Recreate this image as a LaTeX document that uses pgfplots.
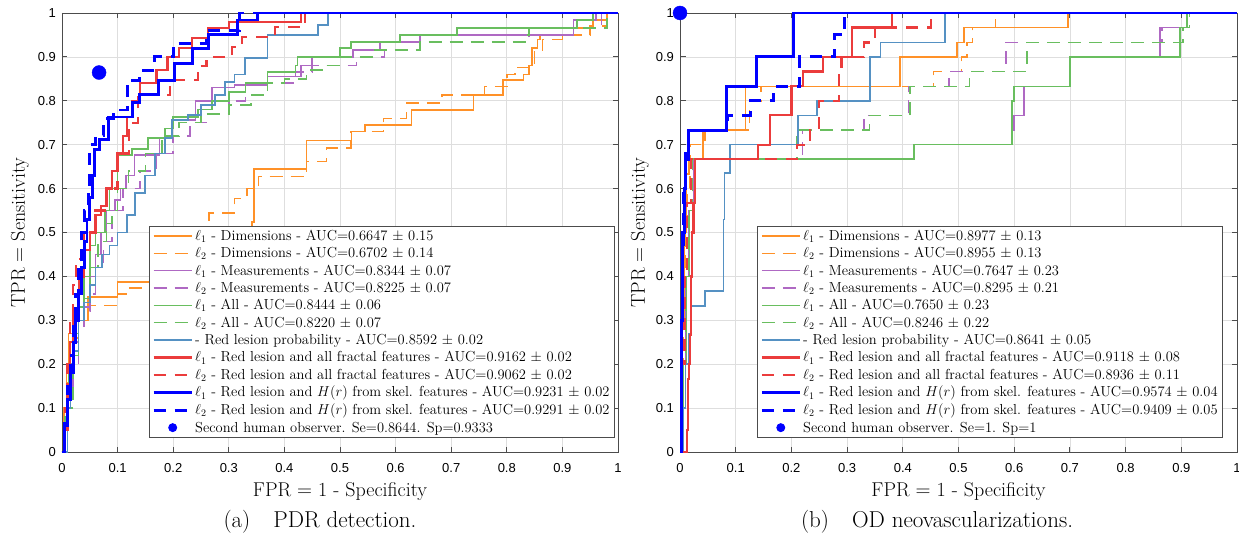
\documentclass[border=0pt]{standalone}
\usepackage{fontspec}
\usepackage{pgfplots}
\pgfplotsset{compat=1.18}
\newfontfamily\tickfont{Liberation Sans}
\definecolor{cOr}{RGB}{255,145,40}
\definecolor{cPu}{RGB}{175,105,195}
\definecolor{cGr}{RGB}{105,190,95}
\definecolor{cSb}{RGB}{85,145,195}
\definecolor{cRd}{RGB}{235,60,60}
\definecolor{cBl}{RGB}{0,0,255}
\pgfplotsset{
 sOr/.style={const plot, color=cOr, line width=1.5pt},
 sPu/.style={const plot, color=cPu, line width=1.5pt},
 sGr/.style={const plot, color=cGr, line width=1.5pt},
 sSb/.style={const plot, color=cSb, line width=1.5pt},
 sRd/.style={const plot, color=cRd, line width=2.3pt},
 sBl/.style={const plot, color=cBl, line width=2.9pt},
 dsh/.style={dash pattern=on 13pt off 8pt},
 dshB/.style={dash pattern=on 12pt off 9pt},
 rocax/.style={
  scale only axis, height=439pt,
  xmin=0,xmax=1,ymin=0,ymax=1,
  xtick={0,0.1,0.2,0.3,0.4,0.5,0.6,0.7,0.8,0.9,1},
  ytick={0,0.1,0.2,0.3,0.4,0.5,0.6,0.7,0.8,0.9,1},
  xticklabels={0,0.1,0.2,0.3,0.4,0.5,0.6,0.7,0.8,0.9,1},
  yticklabels={0,0.1,0.2,0.3,0.4,0.5,0.6,0.7,0.8,0.9,1},
  grid=major,
  major grid style={draw=black!13, line width=0.7pt},
  axis line style={draw=black!70, line width=0.9pt},
  every tick/.style={draw=black!70, line width=0.9pt},
  major tick length=5.5pt,
  tick align=inside,
  xticklabel style={font=\tickfont\fontsize{13}{15}\selectfont, anchor=base, yshift=-20pt},
  yticklabel style={font=\tickfont\fontsize{13}{15}\selectfont, anchor=east, xshift=-2.5pt},
  xlabel={FPR $=$ 1 - Specificity}, ylabel={TPR $=$ Sensitivity},
  xlabel style={font=\fontsize{20}{24}\selectfont, at={(axis description cs:0.5,-0.1025)}, anchor=base},
  ylabel style={font=\fontsize{20}{24}\selectfont, at={(axis description cs:-0.0755,0.5)}, anchor=center},
  legend style={font=\fontsize{14.5}{17}\selectfont, draw=black!70, line width=0.9pt, fill=white, anchor=south east, inner xsep=3pt, inner ysep=2pt, row sep=1.5pt},
  legend cell align=left,
  legend image code/.code={\draw[mark repeat=2,mark phase=2,#1, mark size=4pt] plot coordinates {(0pt,0pt) (19pt,0pt) (38pt,0pt)};},
  clip=false,
 }
}
\begin{document}
\begin{tikzpicture}
\path[use as bounding box] (0,0) rectangle (1239pt,533pt);
% ---------------- left ----------------
\begin{axis}[rocax, width=556pt, at={(62pt,81pt)}, anchor=south west,
  legend style={at={(rel axis cs:0.9946,0.032)}}]
\addplot[sOr] coordinates {(0,0)(0.004,0.1)(0.008,0.2)(0.012,0.27)(0.025,0.3)(0.047,0.353)(0.1,0.387)(0.16,0.4)(0.2,0.43)(0.25,0.47)(0.3,0.5)(0.342,0.524)(0.345,0.645)(0.44,0.71)(0.521,0.73)(0.545,0.745)(0.629,0.779)(0.74,0.813)(0.793,0.847)(0.83,0.86)(0.84,0.88)(0.845,0.92)(0.855,0.94)(0.86,0.95)(0.92,0.966)(0.955,0.984)(0.98,1)(1,1)};
\addlegendentry{$\ell_1$ - Dimensions - AUC=0.6647 $\pm$ 0.15}
\addplot[sOr,dsh] coordinates {(0,0)(0.005,0.1)(0.01,0.2)(0.015,0.26)(0.03,0.3)(0.047,0.334)(0.1,0.36)(0.118,0.374)(0.2,0.42)(0.25,0.5)(0.264,0.544)(0.31,0.578)(0.333,0.6)(0.353,0.627)(0.44,0.662)(0.476,0.692)(0.52,0.73)(0.578,0.76)(0.62,0.795)(0.683,0.813)(0.76,0.832)(0.8,0.86)(0.815,0.876)(0.85,0.916)(0.864,0.94)(0.9,0.95)(0.95,0.97)(0.98,1)(1,1)};
\addlegendentry{$\ell_2$ - Dimensions - AUC=0.6702 $\pm$ 0.14}
\addplot[sPu] coordinates {(0,0)(0.005,0.05)(0.01,0.15)(0.02,0.25)(0.03,0.3)(0.04,0.33)(0.05,0.4)(0.06,0.45)(0.07,0.5)(0.08,0.55)(0.095,0.574)(0.105,0.6)(0.115,0.63)(0.13,0.677)(0.175,0.715)(0.198,0.756)(0.24,0.8)(0.27,0.83)(0.31,0.836)(0.37,0.855)(0.43,0.88)(0.45,0.9)(0.523,0.916)(0.572,0.934)(0.644,0.95)(0.92,0.984)(0.96,1)(1,1)};
\addlegendentry{$\ell_1$ - Measurements - AUC=0.8344 $\pm$ 0.07}
\addplot[sPu,dsh] coordinates {(0,0)(0.01,0.1)(0.02,0.2)(0.03,0.28)(0.04,0.32)(0.05,0.36)(0.06,0.42)(0.075,0.48)(0.09,0.55)(0.11,0.6)(0.14,0.64)(0.17,0.68)(0.2,0.72)(0.23,0.75)(0.26,0.77)(0.3,0.8)(0.33,0.813)(0.37,0.84)(0.42,0.866)(0.45,0.88)(0.53,0.9)(0.58,0.916)(0.644,0.934)(0.84,0.966)(0.97,1)(1,1)};
\addlegendentry{$\ell_2$ - Measurements - AUC=0.8225 $\pm$ 0.07}
\addplot[sGr] coordinates {(0,0)(0.005,0.08)(0.012,0.18)(0.02,0.27)(0.03,0.33)(0.04,0.4)(0.05,0.47)(0.06,0.5)(0.077,0.55)(0.085,0.6)(0.1,0.677)(0.126,0.69)(0.155,0.715)(0.185,0.737)(0.2,0.763)(0.245,0.78)(0.27,0.8)(0.3,0.82)(0.33,0.84)(0.37,0.866)(0.42,0.88)(0.424,0.9)(0.5,0.92)(0.52,0.934)(0.608,0.95)(0.71,0.966)(0.926,0.984)(0.955,1)(1,1)};
\addlegendentry{$\ell_1$ - All - AUC=0.8444 $\pm$ 0.06}
\addplot[sGr,dsh] coordinates {(0,0)(0.01,0.1)(0.02,0.22)(0.03,0.3)(0.04,0.35)(0.05,0.42)(0.065,0.48)(0.08,0.52)(0.09,0.55)(0.1,0.6)(0.12,0.64)(0.15,0.68)(0.18,0.72)(0.21,0.75)(0.25,0.77)(0.3,0.79)(0.34,0.813)(0.37,0.84)(0.4,0.85)(0.44,0.87)(0.47,0.88)(0.5,0.9)(0.56,0.916)(0.644,0.934)(0.836,0.95)(0.84,0.966)(0.98,1)(1,1)};
\addlegendentry{$\ell_2$ - All - AUC=0.8220 $\pm$ 0.07}
\addplot[sSb] coordinates {(0,0)(0.01,0.1)(0.015,0.2)(0.02,0.23)(0.03,0.3)(0.04,0.34)(0.05,0.38)(0.06,0.42)(0.072,0.45)(0.085,0.47)(0.1,0.5)(0.117,0.54)(0.131,0.59)(0.149,0.63)(0.167,0.68)(0.185,0.715)(0.198,0.756)(0.227,0.768)(0.25,0.79)(0.275,0.813)(0.293,0.843)(0.31,0.86)(0.329,0.897)(0.37,0.95)(0.46,0.973)(0.478,1)(1,1)};
\addlegendentry{- Red lesion probability - AUC=0.8592 $\pm$ 0.02}
\addplot[sRd] coordinates {(0,0)(0.005,0.05)(0.01,0.15)(0.015,0.25)(0.02,0.32)(0.03,0.4)(0.04,0.46)(0.05,0.5)(0.06,0.54)(0.07,0.56)(0.08,0.6)(0.09,0.64)(0.1,0.68)(0.11,0.72)(0.117,0.763)(0.126,0.8)(0.14,0.84)(0.17,0.87)(0.19,0.9)(0.21,0.92)(0.234,0.943)(0.263,0.966)(0.3,0.98)(0.43,1)(1,1)};
\addlegendentry{$\ell_1$ - Red lesion and all fractal features - AUC=0.9162 $\pm$ 0.02}
\addplot[sRd,dshB] coordinates {(0,0)(0.005,0.1)(0.01,0.2)(0.015,0.3)(0.02,0.38)(0.025,0.44)(0.04,0.5)(0.06,0.55)(0.08,0.6)(0.1,0.68)(0.12,0.75)(0.137,0.813)(0.194,0.847)(0.245,0.88)(0.26,0.9)(0.306,0.922)(0.324,0.945)(0.383,0.968)(0.437,1)(1,1)};
\addlegendentry{$\ell_2$ - Red lesion and all fractal features - AUC=0.9062 $\pm$ 0.02}
\addplot[sBl] coordinates {(0,0)(0.005,0.06)(0.01,0.12)(0.015,0.18)(0.02,0.25)(0.025,0.3)(0.03,0.36)(0.035,0.42)(0.04,0.48)(0.045,0.53)(0.05,0.58)(0.055,0.63)(0.059,0.69)(0.068,0.711)(0.083,0.763)(0.126,0.797)(0.14,0.815)(0.173,0.847)(0.203,0.884)(0.234,0.92)(0.263,0.952)(0.315,0.984)(0.351,1)(1,1)};
\addlegendentry{$\ell_1$ - Red lesion and $H(r)$ from skel. features - AUC=0.9231 $\pm$ 0.02}
\addplot[sBl,dshB] coordinates {(0,0)(0.005,0.08)(0.01,0.15)(0.015,0.22)(0.02,0.3)(0.025,0.36)(0.03,0.43)(0.035,0.5)(0.04,0.55)(0.047,0.6)(0.05,0.7)(0.06,0.72)(0.075,0.76)(0.092,0.779)(0.117,0.847)(0.14,0.87)(0.167,0.9)(0.2,0.93)(0.26,0.96)(0.32,1)(1,1)};
\addlegendentry{$\ell_2$ - Red lesion and $H(r)$ from skel. features - AUC=0.9291 $\pm$ 0.02}
\addplot[only marks, mark=*, mark size=7pt, color=cBl] coordinates {(0.0667,0.8644)};
\addlegendentry{Second human observer. Se=0.8644. Sp=0.9333}
\end{axis}
% ---------------- right ----------------
\begin{axis}[rocax, width=557pt, at={(680pt,81pt)}, anchor=south west,
  ylabel style={at={(axis description cs:-0.0718,0.5)}},
  legend style={at={(rel axis cs:0.975,0.032)}}]
\addplot[sOr] coordinates {(0,0)(0.004,0.3)(0.008,0.5)(0.012,0.633)(0.016,0.667)(0.041,0.733)(0.118,0.833)(0.395,0.9)(0.497,0.933)(0.51,0.967)(0.697,1)(1,1)};
\addlegendentry{$\ell_1$ - Dimensions - AUC=0.8977 $\pm$ 0.13}
\addplot[sOr,dsh] coordinates {(0,0)(0.005,0.3)(0.009,0.5)(0.013,0.6)(0.018,0.7)(0.045,0.733)(0.125,0.8)(0.145,0.833)(0.455,0.867)(0.505,0.9)(0.515,0.933)(0.525,0.967)(0.566,1)(1,1)};
\addlegendentry{$\ell_2$ - Dimensions - AUC=0.8955 $\pm$ 0.13}
\addplot[sPu] coordinates {(0,0)(0.006,0.2)(0.011,0.4)(0.016,0.55)(0.025,0.667)(0.42,0.7)(0.597,0.733)(0.6,0.767)(0.618,0.833)(0.7,0.9)(0.862,0.967)(0.91,1)(1,1)};
\addlegendentry{$\ell_1$ - Measurements - AUC=0.7647 $\pm$ 0.23}
\addplot[sPu,dsh] coordinates {(0,0)(0.005,0.2)(0.01,0.4)(0.015,0.55)(0.022,0.667)(0.22,0.733)(0.33,0.767)(0.41,0.833)(0.483,0.867)(0.585,0.933)(0.865,0.967)(0.91,1)(1,1)};
\addlegendentry{$\ell_2$ - Measurements - AUC=0.8295 $\pm$ 0.21}
\addplot[sGr] coordinates {(0,0)(0.006,0.2)(0.012,0.4)(0.017,0.55)(0.026,0.667)(0.42,0.7)(0.596,0.8)(0.6,0.833)(0.7,0.9)(0.898,0.967)(0.91,1)(1,1)};
\addlegendentry{$\ell_1$ - All - AUC=0.7650 $\pm$ 0.23}
\addplot[sGr,dsh] coordinates {(0,0)(0.005,0.2)(0.01,0.4)(0.015,0.55)(0.022,0.667)(0.21,0.733)(0.34,0.767)(0.413,0.833)(0.52,0.867)(0.623,0.933)(0.903,0.967)(0.915,1)(1,1)};
\addlegendentry{$\ell_2$ - All - AUC=0.8246 $\pm$ 0.22}
\addplot[sSb] coordinates {(0,0)(0.005,0.1)(0.01,0.2)(0.015,0.27)(0.02,0.333)(0.045,0.367)(0.078,0.53)(0.08,0.636)(0.09,0.7)(0.212,0.767)(0.246,0.8)(0.341,0.9)(0.36,0.933)(0.476,1)(1,1)};
\addlegendentry{- Red lesion probability - AUC=0.8641 $\pm$ 0.05}
\addplot[sRd] coordinates {(0,0)(0.012,0.05)(0.014,0.167)(0.016,0.2)(0.018,0.267)(0.02,0.4)(0.022,0.5)(0.024,0.567)(0.027,0.667)(0.14,0.7)(0.162,0.767)(0.2,0.833)(0.221,0.867)(0.257,0.9)(0.309,0.967)(0.38,1)(1,1)};
\addlegendentry{$\ell_1$ - Red lesion and all fractal features - AUC=0.9118 $\pm$ 0.08}
\addplot[sRd,dshB] coordinates {(0,0)(0.004,0.2)(0.008,0.4)(0.012,0.567)(0.02,0.667)(0.21,0.7)(0.233,0.733)(0.25,0.8)(0.285,0.867)(0.29,0.9)(0.33,0.933)(0.35,0.967)(0.45,1)(1,1)};
\addlegendentry{$\ell_2$ - Red lesion and all fractal features - AUC=0.8936 $\pm$ 0.11}
\addplot[sBl] coordinates {(0,0)(0.002,0.3)(0.005,0.5)(0.008,0.6)(0.01,0.667)(0.015,0.733)(0.084,0.833)(0.138,0.9)(0.203,1)(1,1)};
\addlegendentry{$\ell_1$ - Red lesion and $H(r)$ from skel. features - AUC=0.9574 $\pm$ 0.04}
\addplot[sBl,dshB] coordinates {(0,0)(0.002,0.3)(0.004,0.45)(0.007,0.6)(0.01,0.7)(0.015,0.733)(0.085,0.767)(0.126,0.8)(0.168,0.833)(0.215,0.9)(0.278,0.95)(0.296,1)(1,1)};
\addlegendentry{$\ell_2$ - Red lesion and $H(r)$ from skel. features - AUC=0.9409 $\pm$ 0.05}
\addplot[only marks, mark=*, mark size=7pt, color=cBl] coordinates {(0,1)};
\addlegendentry{Second human observer. Se=1. Sp=1}
\end{axis}
\node[font=\fontsize{23}{27}\selectfont, anchor=base] at (320pt,6pt) {(a)\quad PDR detection.};
\node[font=\fontsize{23}{27}\selectfont, anchor=base] at (937pt,6pt) {(b)\quad OD neovascularizations.};
\end{tikzpicture}
\end{document}
